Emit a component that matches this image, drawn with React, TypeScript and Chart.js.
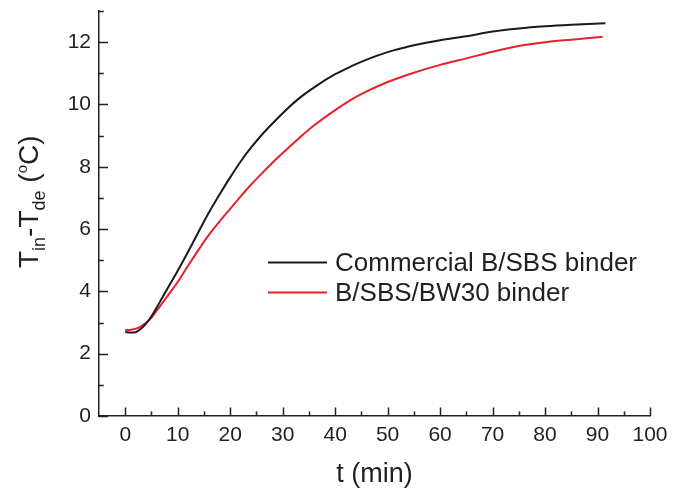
import React, { useEffect, useRef } from "react";
import { Chart, registerables } from "chart.js";

Chart.register(...registerables);

// ---- data ----
const T_COMMERCIAL = [0, 1, 2, 3, 4, 5, 6, 7, 8, 10, 12, 14, 16, 18, 20, 22, 24, 26, 28, 30, 33, 36, 40, 43, 46, 50, 55, 60, 65, 70, 75, 80, 85, 91.5];
const V_COMMERCIAL = [2.70, 2.68, 2.69, 2.80, 2.97, 3.20, 3.48, 3.78, 4.08, 4.66, 5.28, 5.92, 6.55, 7.12, 7.66, 8.17, 8.62, 9.02, 9.38, 9.72, 10.18, 10.55, 10.97, 11.22, 11.44, 11.68, 11.90, 12.06, 12.19, 12.34, 12.44, 12.51, 12.56, 12.61];

const T_BW30 = [0, 1, 2, 3, 4, 5, 6, 8, 10, 12, 14, 16, 18, 20, 22, 24, 26, 28, 30, 33, 36, 40, 43, 46, 50, 55, 60, 65, 70, 75, 80, 85, 91];
const V_BW30 = [2.76, 2.77, 2.80, 2.88, 2.99, 3.16, 3.38, 3.84, 4.30, 4.83, 5.34, 5.83, 6.25, 6.65, 7.05, 7.43, 7.78, 8.12, 8.44, 8.90, 9.33, 9.82, 10.15, 10.42, 10.72, 11.02, 11.27, 11.48, 11.69, 11.88, 12.00, 12.08, 12.17];

const SERIES_LABELS = ["Commercial B/SBS binder", "B/SBS/BW30 binder"];
const SERIES_COLORS = ["#1a1a1a", "#e8212e"];

const X_TICKS = [0, 10, 20, 30, 40, 50, 60, 70, 80, 90, 100];
const X_MINOR = [5, 15, 25, 35, 45, 55, 65, 75, 85, 95];
const Y_TICKS = [0, 2, 4, 6, 8, 10, 12];
const Y_MINOR = [1, 3, 5, 7, 9, 11, 13];

const X_TITLE = "t (min)";

const FONT = '"Liberation Sans", Arial, Helvetica, sans-serif';
const INK = "#231f20";

const decorPlugin = {
  id: "decor",
  afterDraw(chart: any) {
    const ctx = chart.ctx;
    const xs = chart.scales.x;
    const ys = chart.scales.y;
    const area = chart.chartArea;
    ctx.save();
    ctx.strokeStyle = INK;
    ctx.lineWidth = 1.5;
    // inward ticks on x axis
    const xTick = (v: number, len: number) => {
      const px = Math.round(xs.getPixelForValue(v)) + 0.5;
      ctx.beginPath();
      ctx.moveTo(px, area.bottom);
      ctx.lineTo(px, area.bottom - len);
      ctx.stroke();
    };
    X_TICKS.forEach((v) => xTick(v, 8.5));
    X_MINOR.forEach((v) => xTick(v, 4.5));
    const yTick = (v: number, len: number) => {
      const py = Math.round(ys.getPixelForValue(v)) + 0.5;
      ctx.beginPath();
      ctx.moveTo(area.left, py);
      ctx.lineTo(area.left + len, py);
      ctx.stroke();
    };
    Y_TICKS.forEach((v) => yTick(v, 9));
    Y_MINOR.forEach((v) => yTick(v, 4.8));

    // y title with subscripts
    ctx.save();
    ctx.translate(38, 268);
    ctx.rotate(-Math.PI / 2);
    ctx.fillStyle = INK;
    ctx.textAlign = "left";
    ctx.textBaseline = "alphabetic";
    let x = 0;
    const seg = (txt: string, size: number, dy: number) => {
      ctx.font = `${size}px ${FONT}`;
      ctx.fillText(txt, x, dy);
      x += ctx.measureText(txt).width;
    };
    seg("T", 28, 0);
    seg("in", 18, 7);
    seg("-T", 28, 0);
    seg("de", 18, 7);
    seg(" (", 28, 0);
    seg("o", 15, -11);
    seg("C)", 28, 0);
    ctx.restore();

    // legend
    const rows = [262.5, 292.5];
    rows.forEach((y, i) => {
      ctx.strokeStyle = SERIES_COLORS[i];
      ctx.lineWidth = 2;
      ctx.beginPath();
      ctx.moveTo(268, y);
      ctx.lineTo(327, y);
      ctx.stroke();
      ctx.fillStyle = INK;
      ctx.font = `26px ${FONT}`;
      ctx.textAlign = "left";
      ctx.textBaseline = "middle";
      ctx.fillText(SERIES_LABELS[i], 335, y + 1);
    });
    ctx.restore();
  },
};

export default function App() {
  const ref = useRef<HTMLCanvasElement>(null);
  useEffect(() => {
    if (!ref.current) return;
    const chart = new Chart(ref.current, {
      type: "line",
      data: {
        datasets: [
          {
            label: SERIES_LABELS[0],
            data: T_COMMERCIAL.map((t, i) => ({ x: t, y: V_COMMERCIAL[i] })),
            borderColor: SERIES_COLORS[0],
            borderWidth: 2,
            pointRadius: 0,
            cubicInterpolationMode: "monotone",
            fill: false,
          },
          {
            label: SERIES_LABELS[1],
            data: T_BW30.map((t, i) => ({ x: t, y: V_BW30[i] })),
            borderColor: SERIES_COLORS[1],
            borderWidth: 2,
            pointRadius: 0,
            cubicInterpolationMode: "monotone",
            fill: false,
          },
        ],
      },
      options: {
        animation: false,
        responsive: false,
        layout: { padding: { left: 0, top: 11, right: 36, bottom: 0 } },
        plugins: {
          legend: { display: false },
          tooltip: { enabled: false },
        },
        scales: {
          x: {
            type: "linear",
            min: -5,
            max: 100,
            grid: { display: false, drawTicks: false },
            border: { display: true, color: INK, width: 1.5 },
            afterBuildTicks: (s: any) => {
              s.ticks = X_TICKS.map((v) => ({ value: v }));
            },
            afterFit: (s: any) => {
              s.height = 80;
              s.paddingLeft = 0;
              s.paddingRight = 0;
            },
            ticks: {
              color: INK,
              font: { family: FONT, size: 21 },
              padding: 7,
              maxRotation: 0,
              autoSkip: false,
            },
            title: {
              display: true,
              text: X_TITLE,
              color: INK,
              font: { family: FONT, size: 27 },
              padding: { top: 0, bottom: 5 },
            },
          },
          y: {
            type: "linear",
            min: 0,
            max: 13,
            grid: { display: false, drawTicks: false },
            border: { display: true, color: INK, width: 1.5 },
            afterBuildTicks: (s: any) => {
              s.ticks = Y_TICKS.map((v) => ({ value: v }));
            },
            afterFit: (s: any) => {
              s.width = 99;
              s.paddingTop = 0;
              s.paddingBottom = 0;
            },
            ticks: {
              color: INK,
              font: { family: FONT, size: 21 },
              padding: 8,
              autoSkip: false,
            },
          },
        },
      },
      plugins: [decorPlugin],
    });
    return () => chart.destroy();
  }, []);
  return (
    <div style={{ position: "fixed", left: 0, top: 0, width: 686, height: 496, background: "#fff" }}>
      <canvas ref={ref} width={686} height={496} style={{ display: "block" }} />
    </div>
  );
}
